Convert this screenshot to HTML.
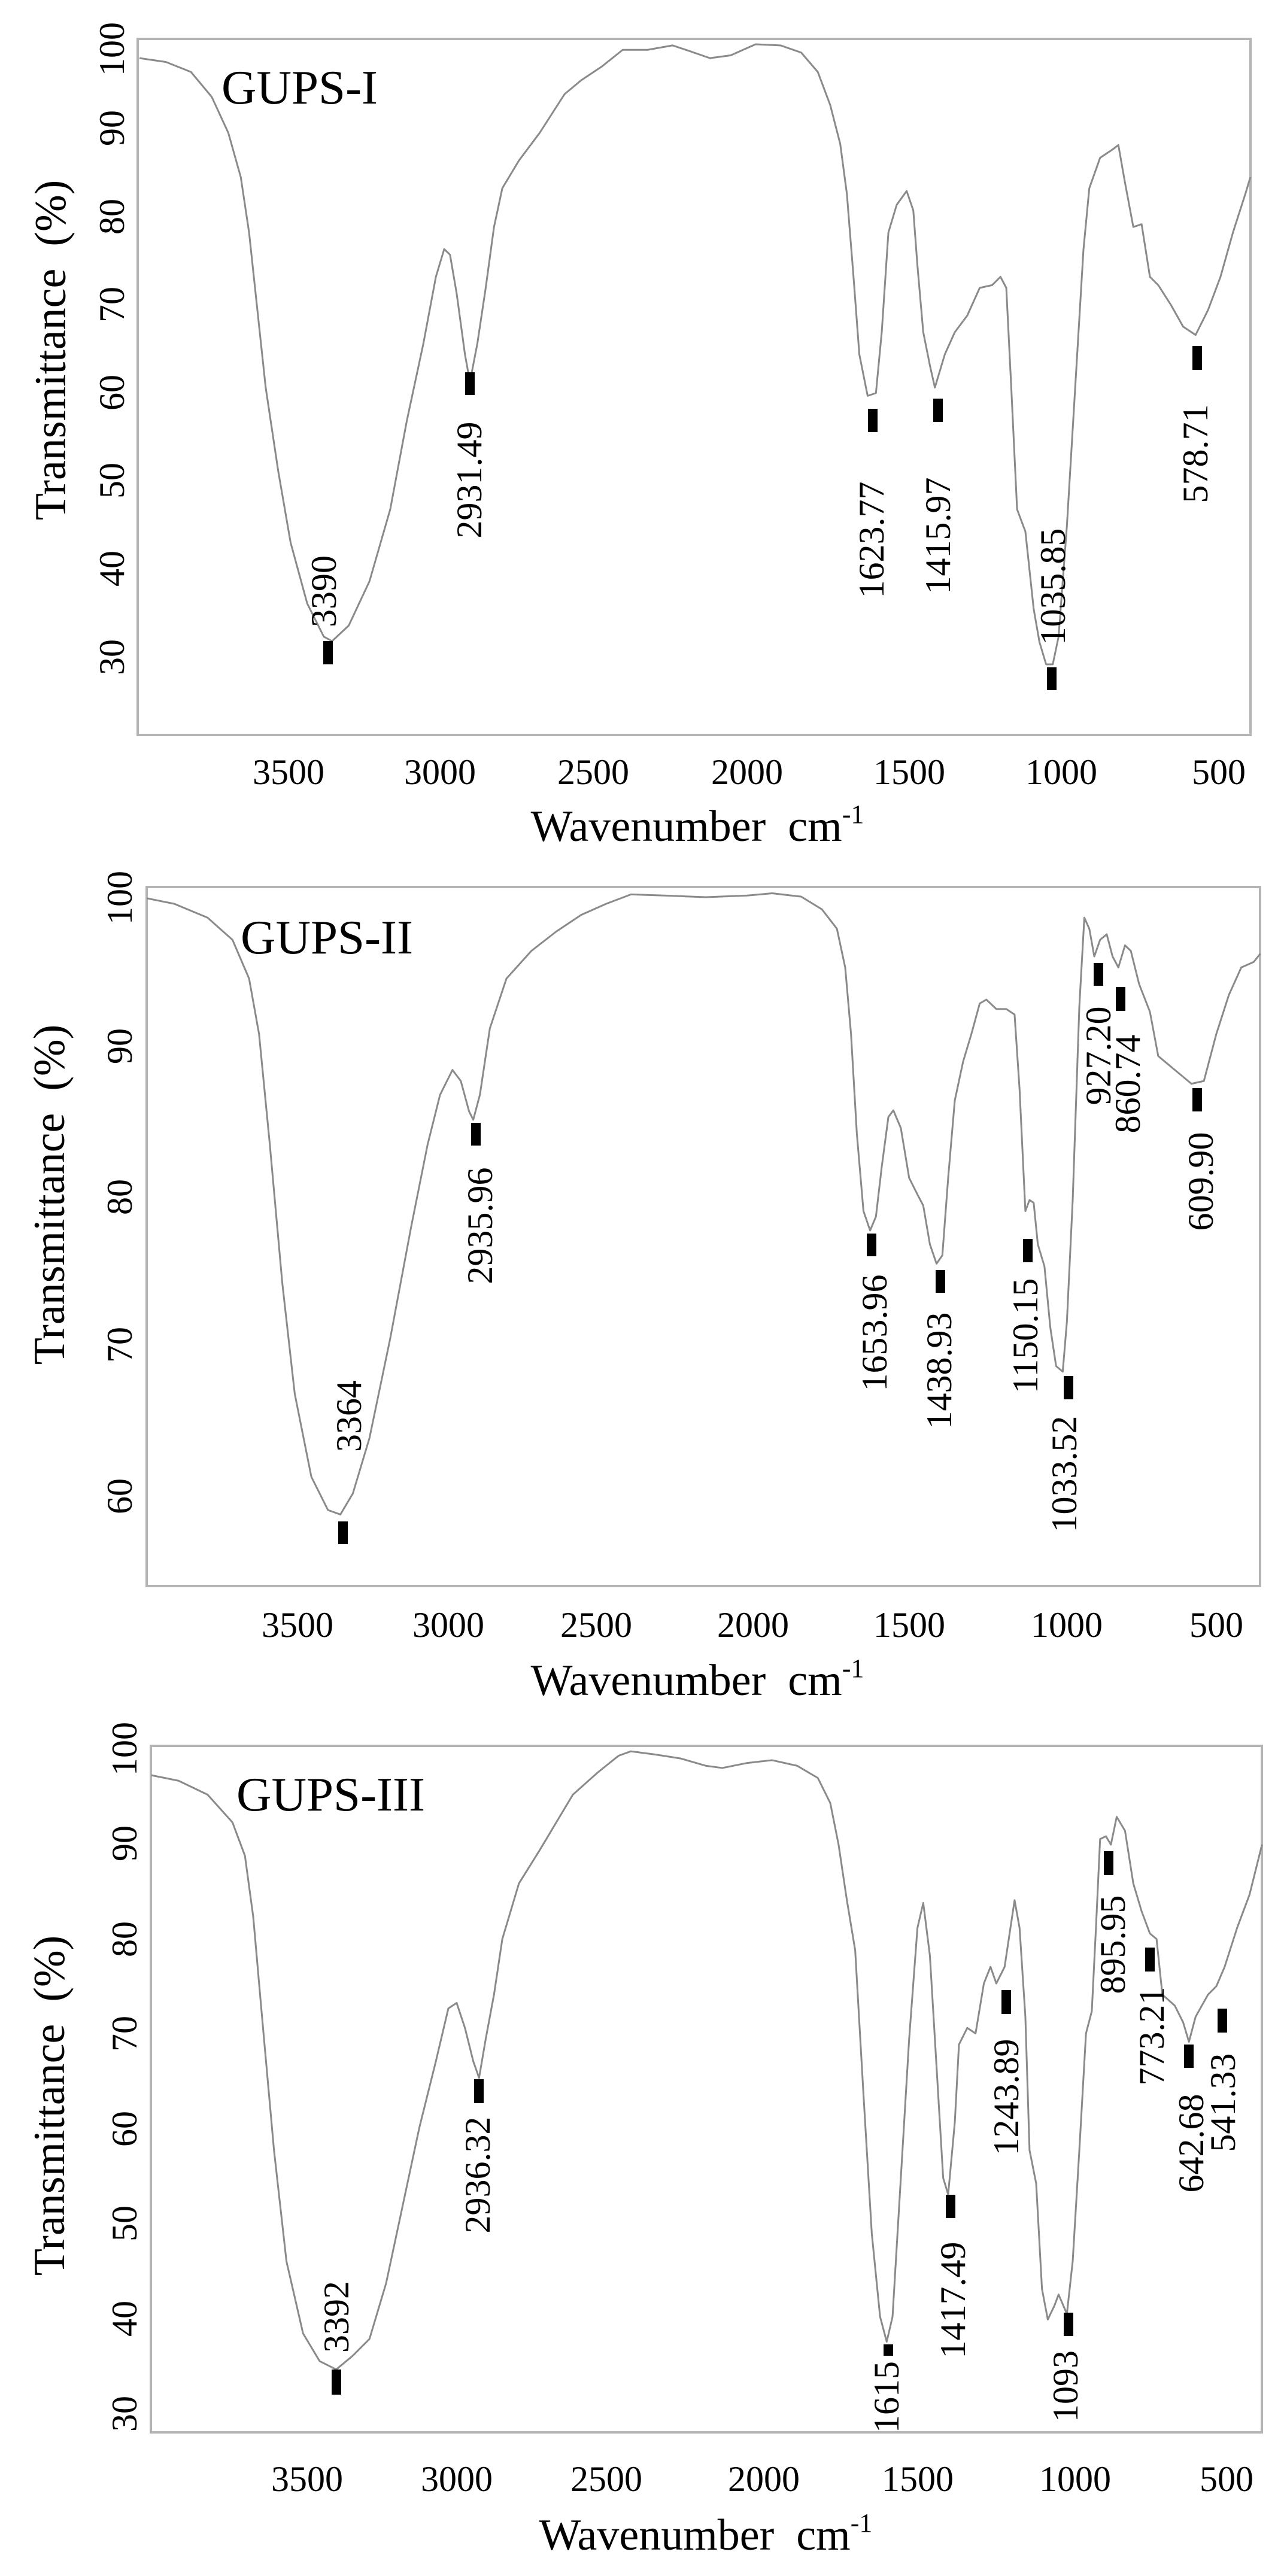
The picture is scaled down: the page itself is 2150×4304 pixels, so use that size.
<!DOCTYPE html>
<html><head><meta charset="utf-8"><style>
html,body{margin:0;padding:0;background:#fff;}
svg{display:block;font-family:"Liberation Serif",serif;}
text{font-family:"Liberation Serif",serif;fill:#000;}
.t{font-size:60px;}
.pk{font-size:60px;}
.ti{font-size:74px;}
.g{font-size:81px;}
.fr{fill:none;stroke:#b4b4b4;stroke-width:4;}
.cv{fill:none;stroke:#8a8a8a;stroke-width:3;stroke-linejoin:round;}
.mk{fill:#000;}
</style></head><body>
<svg width="2150" height="4304" viewBox="0 0 2150 4304" xmlns="http://www.w3.org/2000/svg" font-family="Liberation Serif, serif">
<rect width="2150" height="4304" fill="#fff"/>

<!-- PANEL 1 -->
<rect class="fr" x="230" y="65" width="1859" height="1163"/>
<g class="t" text-anchor="middle" dominant-baseline="central">
<text transform="translate(187,82) rotate(-90)">100</text>
<text transform="translate(187,214) rotate(-90)">90</text>
<text transform="translate(187,362) rotate(-90)">80</text>
<text transform="translate(187,509) rotate(-90)">70</text>
<text transform="translate(187,656) rotate(-90)">60</text>
<text transform="translate(187,803) rotate(-90)">50</text>
<text transform="translate(187,950) rotate(-90)">40</text>
<text transform="translate(187,1098) rotate(-90)">30</text>
<text x="482" y="1290">3500</text><text x="735" y="1290">3000</text><text x="991" y="1290">2500</text>
<text x="1248" y="1290">2000</text><text x="1519" y="1290">1500</text><text x="1773" y="1290">1000</text><text x="2036" y="1290">500</text>
</g>
<text class="ti" text-anchor="middle" dominant-baseline="central" transform="translate(85,585) rotate(-90)">Transmittance&#160; (%)</text>
<text class="ti" x="1165" y="1405" text-anchor="middle">Wavenumber&#160; cm<tspan dy="-30" font-size="44">-1</tspan></text>
<text class="g" x="370" y="173">GUPS-I</text>
<polyline class="cv" vector-effect="non-scaling-stroke" transform="matrix(1.387 0 0 0.925 0 0)" points="168,105 200,112 230,130 255,175 275,240 290,320 300,420 310,560 320,700 335,850 350,980 370,1090 390,1150 400,1158 420,1130 445,1050 470,920 490,760 510,620 525,500 535,450 542,460 550,530 560,640 566,690 575,620 585,520 595,410 605,340 625,290 650,240 680,170 700,145 725,120 750,90 780,90 810,82 830,92 855,105 880,100 910,80 940,82 965,95 985,130 1000,190 1012,260 1020,350 1028,500 1035,640 1045,715 1055,710 1062,600 1070,420 1080,370 1092,345 1100,380 1105,480 1112,600 1120,660 1126,700 1132,670 1138,640 1150,600 1165,570 1180,520 1195,515 1205,500 1212,520 1218,700 1225,920 1235,960 1245,1100 1252,1160 1260,1200 1268,1200 1275,1150 1285,950 1295,700 1305,450 1312,340 1325,285 1340,270 1347,262 1355,330 1365,410 1375,405 1385,500 1395,515 1410,550 1425,590 1440,605 1455,560 1470,500 1485,420 1500,350 1506,320"/>
<g class="mk">
<rect x="540" y="1071" width="16" height="39"/><rect x="777" y="622" width="16" height="38"/>
<rect x="1450" y="683" width="16" height="39"/><rect x="1559" y="666" width="16" height="39"/>
<rect x="1749" y="1115" width="16" height="38"/><rect x="1992" y="578" width="16" height="40"/>
</g>
<g class="pk" text-anchor="middle" dominant-baseline="central">
<text transform="translate(541,988) rotate(-90)">3390</text>
<text transform="translate(784,802) rotate(-90)">2931.49</text>
<text transform="translate(1456,902) rotate(-90)">1623.77</text>
<text transform="translate(1567,895) rotate(-90)">1415.97</text>
<text transform="translate(1759,980) rotate(-90)">1035.85</text>
<text transform="translate(1997,758) rotate(-90)">578.71</text>
</g>

<!-- PANEL 2 -->
<rect class="fr" x="245" y="1482" width="1860" height="1168"/>
<g class="t" text-anchor="middle" dominant-baseline="central">
<text transform="translate(200,1500) rotate(-90)">100</text>
<text transform="translate(200,1748) rotate(-90)">90</text>
<text transform="translate(200,2000) rotate(-90)">80</text>
<text transform="translate(200,2247) rotate(-90)">70</text>
<text transform="translate(200,2500) rotate(-90)">60</text>
<text x="497" y="2715">3500</text><text x="749" y="2715">3000</text><text x="996" y="2715">2500</text>
<text x="1258" y="2715">2000</text><text x="1519" y="2715">1500</text><text x="1782" y="2715">1000</text><text x="2032" y="2715">500</text>
</g>
<text class="ti" text-anchor="middle" dominant-baseline="central" transform="translate(83,1996) rotate(-90)">Transmittance&#160; (%)</text>
<text class="ti" x="1165" y="2832" text-anchor="middle">Wavenumber&#160; cm<tspan dy="-30" font-size="44">-1</tspan></text>
<text class="g" x="402" y="1593">GUPS-II</text>
<polyline class="cv" vector-effect="non-scaling-stroke" transform="matrix(1.387 0 0 0.925 0 1450)" points="177,55 210,65 250,90 280,130 300,200 312,300 325,500 340,750 355,950 375,1100 395,1160 410,1168 425,1130 445,1030 470,850 495,650 515,500 530,410 545,365 555,385 565,440 570,455 578,410 590,290 610,200 640,150 670,115 700,85 730,65 760,48 800,50 850,53 900,50 930,46 965,52 990,75 1008,110 1018,180 1025,300 1032,480 1040,620 1048,655 1055,630 1062,540 1070,450 1076,438 1085,470 1095,560 1105,590 1112,610 1120,680 1128,715 1135,700 1142,560 1150,420 1160,350 1170,300 1180,245 1188,238 1200,255 1212,255 1222,265 1228,400 1235,620 1240,600 1245,605 1250,680 1258,720 1265,830 1272,900 1280,910 1285,820 1292,600 1300,250 1306,90 1312,110 1318,160 1325,130 1333,120 1340,160 1347,180 1355,140 1362,150 1372,210 1385,260 1395,340 1415,365 1435,390 1450,385 1465,300 1480,230 1495,180 1510,170 1518,155"/>
<g class="mk">
<rect x="565" y="2542" width="16" height="38"/><rect x="787" y="1876" width="16" height="38"/>
<rect x="1448" y="2061" width="16" height="38"/><rect x="1563" y="2122" width="16" height="38"/>
<rect x="1709" y="2070" width="16" height="39"/><rect x="1777" y="2299" width="16" height="39"/>
<rect x="1827" y="1609" width="16" height="38"/><rect x="1864" y="1649" width="16" height="40"/>
<rect x="1992" y="1818" width="16" height="39"/>
</g>
<g class="pk" text-anchor="middle" dominant-baseline="central">
<text transform="translate(583,2366) rotate(-90)">3364</text>
<text transform="translate(802,2048) rotate(-90)">2935.96</text>
<text transform="translate(1461,2227) rotate(-90)">1653.96</text>
<text transform="translate(1569,2290) rotate(-90)">1438.93</text>
<text transform="translate(1713,2232) rotate(-90)">1150.15</text>
<text transform="translate(1778,2463) rotate(-90)">1033.52</text>
<text transform="translate(1835,1764) rotate(-90)">927.20</text>
<text transform="translate(1884,1811) rotate(-90)">860.74</text>
<text transform="translate(2006,1974) rotate(-90)">609.90</text>
</g>

<!-- PANEL 3 -->
<rect class="fr" x="252" y="2917" width="1856" height="1147"/>
<g class="t" text-anchor="middle" dominant-baseline="central">
<text transform="translate(208,2922) rotate(-90)">100</text>
<text transform="translate(208,3080) rotate(-90)">90</text>
<text transform="translate(208,3240) rotate(-90)">80</text>
<text transform="translate(208,3398) rotate(-90)">70</text>
<text transform="translate(208,3557) rotate(-90)">60</text>
<text transform="translate(208,3715) rotate(-90)">50</text>
<text transform="translate(208,3874) rotate(-90)">40</text>
<text transform="translate(208,4033) rotate(-90)">30</text>
<text x="513" y="4142">3500</text><text x="763" y="4142">3000</text><text x="1013" y="4142">2500</text>
<text x="1276" y="4142">2000</text><text x="1533" y="4142">1500</text><text x="1796" y="4142">1000</text><text x="2049" y="4142">500</text>
</g>
<text class="ti" text-anchor="middle" dominant-baseline="central" transform="translate(83,3518) rotate(-90)">Transmittance&#160; (%)</text>
<text class="ti" x="1179" y="4260" text-anchor="middle">Wavenumber&#160; cm<tspan dy="-30" font-size="44">-1</tspan></text>
<text class="g" x="395" y="3025">GUPS-III</text>
<polyline class="cv" vector-effect="non-scaling-stroke" transform="matrix(1.387 0 0 0.928 0 2850)" points="182,125 215,135 250,160 280,210 295,270 305,380 315,550 330,800 345,1000 365,1130 385,1180 405,1195 425,1170 445,1140 465,1040 485,900 505,760 525,640 540,545 550,535 560,580 570,640 577,670 585,600 595,520 605,420 625,320 650,260 670,210 690,160 720,120 745,90 760,82 790,88 820,95 850,108 870,112 900,103 930,98 960,108 985,130 1000,175 1010,250 1020,350 1030,440 1040,700 1050,950 1060,1100 1068,1145 1075,1100 1085,850 1095,600 1105,400 1112,355 1120,450 1128,650 1136,850 1142,880 1150,750 1155,610 1165,580 1175,590 1185,500 1193,470 1200,500 1210,470 1218,390 1222,350 1228,400 1235,560 1240,800 1248,860 1255,1050 1262,1105 1270,1080 1275,1060 1285,1095 1292,1000 1300,800 1308,590 1315,550 1320,400 1325,240 1332,235 1338,250 1345,200 1355,225 1365,320 1375,370 1385,410 1393,420 1400,520 1415,540 1425,570 1432,605 1440,560 1455,520 1465,505 1475,470 1490,400 1505,340 1520,250"/>
<g class="mk">
<rect x="554" y="3959" width="16" height="42"/><rect x="792" y="3474" width="16" height="40"/>
<rect x="1476" y="3917" width="16" height="19"/><rect x="1580" y="3667" width="16" height="39"/>
<rect x="1673" y="3325" width="16" height="40"/><rect x="1777" y="3864" width="16" height="39"/>
<rect x="1844" y="3093" width="16" height="40"/><rect x="1913" y="3254" width="16" height="40"/>
<rect x="1978" y="3416" width="16" height="39"/><rect x="2034" y="3356" width="16" height="40"/>
</g>
<g class="pk" text-anchor="middle" dominant-baseline="central">
<text transform="translate(562,3871) rotate(-90)">3392</text>
<text transform="translate(798,3634) rotate(-90)">2936.32</text>
<text transform="translate(1481,4005) rotate(-90)">1615</text>
<text transform="translate(1592,3843) rotate(-90)">1417.49</text>
<text transform="translate(1681,3504) rotate(-90)">1243.89</text>
<text transform="translate(1780,3987) rotate(-90)">1093</text>
<text transform="translate(1859,3249) rotate(-90)">895.95</text>
<text transform="translate(1924,3402) rotate(-90)">773.21</text>
<text transform="translate(1990,3581) rotate(-90)">642.68</text>
<text transform="translate(2043,3513) rotate(-90)">541.33</text>
</g>
</svg>
</body></html>
